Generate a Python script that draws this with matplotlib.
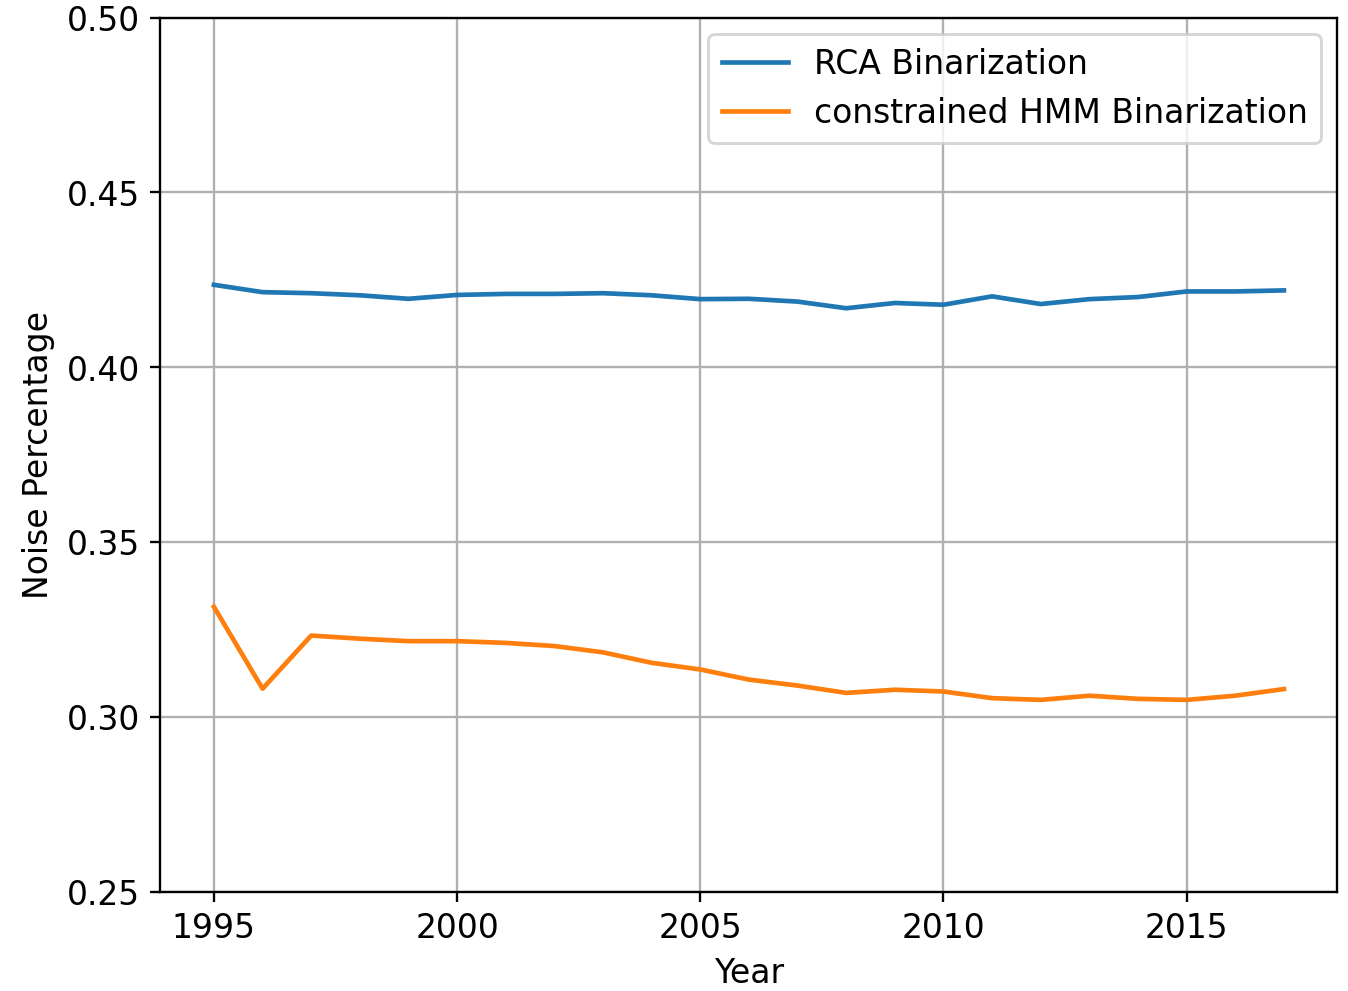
import matplotlib
matplotlib.use("Agg")
import matplotlib.pyplot as plt
import numpy as np

# yearly noise percentage
years = np.arange(1995, 2018)
rca = [0.4236, 0.4215, 0.4212, 0.4206, 0.4196, 0.4207, 0.4210, 0.4210,
       0.4212, 0.4206, 0.4195, 0.4196, 0.4188, 0.4169, 0.4184, 0.4179,
       0.4203, 0.4181, 0.4195, 0.4201, 0.4217, 0.4217, 0.4220]
hmm = [0.3315, 0.3081, 0.3233, 0.3224, 0.3217, 0.3217, 0.3212, 0.3203,
       0.3185, 0.3155, 0.3136, 0.3107, 0.3090, 0.3069, 0.3078, 0.3073,
       0.3054, 0.3049, 0.3061, 0.3052, 0.3049, 0.3061, 0.3080]


def main():
    plt.rcParams['font.size'] = 11.3

    fig, ax = plt.subplots(figsize=(6.42, 4.72), dpi=210)
    fig.subplots_adjust(left=0.119, right=0.992, top=0.982, bottom=0.1)

    ax.plot(years, rca, label="RCA Binarization", lw=1.6)
    ax.plot(years, hmm, label="constrained HMM Binarization", lw=1.6)

    ax.set_ylim(0.25, 0.50)
    ax.set_xlabel("Year")
    ax.set_ylabel("Noise Percentage")
    ax.grid(True)
    ax.legend(loc="upper right")

    fig.savefig("out.png", dpi=210)


if __name__ == '__main__':
    main()
